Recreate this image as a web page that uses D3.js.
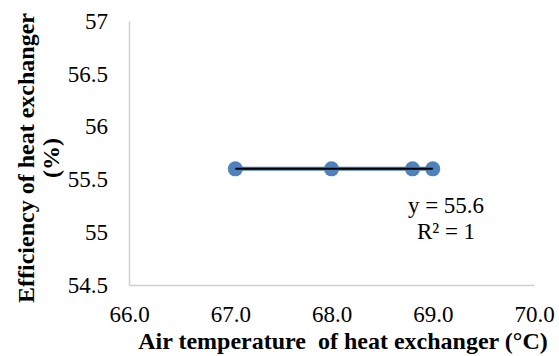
<!DOCTYPE html>
<html>
<head>
<meta charset="utf-8">
<script src="https://cdn.jsdelivr.net/npm/d3@7"></script>
<style>
  body { margin: 0; background: #fff; }
  svg text { font-family: "Liberation Serif", "Times New Roman", serif !important; fill: #000; white-space: pre; }
</style>
</head>
<body>
<svg class="chart"></svg>
<script>
	var airTemp = [67.05, 68.0, 68.8, 69.0];
	var efficiency = [55.6, 55.6, 55.6, 55.6];
	var xTicks = [66, 67, 68, 69, 70];
	var yTicks = [54.5, 55, 55.5, 56, 56.5, 57];
	var trendText = ["y = 55.6", "R² = 1"];

	const colors = {
		point: "#4f81bd",
		trend: "#000000",
		axis: "#d0d0d0"
	};
	const margin = {top: 21, bottom: 71, left: 129, right: 25};
	var width = 559 - margin.left - margin.right;
	var height = 356 - margin.top - margin.bottom;

	var svg = d3.select('.chart')
		.attr('width', 559)
		.attr('height', 356);

	var chart = svg.append('g')
		.attr('transform', 'translate(' + margin.left + ',' + margin.top + ')');

	var x = d3.scaleLinear().domain([66, 70]).range([0, width]);
	var y = d3.scaleLinear().domain([54.5, 57]).range([height, 0]);

	// axes, no tick marks, just labels
	var xAxis = chart.append('g')
		.attr('transform', 'translate(0,' + height + ')')
		.call(d3.axisBottom(x).tickValues(xTicks).tickSize(0).tickPadding(21).tickFormat(d3.format('.1f')));
	xAxis.select('.domain').attr('stroke', colors.axis).attr('stroke-width', 1.5);
	xAxis.selectAll('text').attr('font-size', 23);

	var yAxis = chart.append('g')
		.call(d3.axisLeft(y).tickValues(yTicks).tickSize(0).tickPadding(21).tickFormat(d3.format('')));
	yAxis.select('.domain').attr('stroke', colors.axis).attr('stroke-width', 1.5);
	yAxis.selectAll('text').attr('font-size', 23);

	var pts = airTemp.map((d, i) => ({x: d, y: efficiency[i]}));

	// series line under the trendline
	chart.append('path')
		.datum(pts)
		.attr('fill', 'none')
		.attr('stroke', colors.point)
		.attr('stroke-width', 4)
		.attr('d', d3.line().x((d) => x(d.x)).y((d) => y(d.y)));

	chart.selectAll('circle')
		.data(pts)
		.enter()
		.append('circle')
		.attr('cx', (d) => x(d.x))
		.attr('cy', (d) => y(d.y))
		.attr('r', 7.5)
		.attr('fill', colors.point);

	// linear trendline
	var xExt = d3.extent(airTemp);
	var yMean = d3.mean(efficiency);
	chart.append('line')
		.attr('x1', x(xExt[0]))
		.attr('x2', x(xExt[1]))
		.attr('y1', y(yMean))
		.attr('y2', y(yMean))
		.attr('stroke', colors.trend)
		.attr('stroke-width', 2);

	svg.selectAll('.eq')
		.data(trendText)
		.enter()
		.append('text')
		.attr('class', 'eq')
		.attr('x', 446)
		.attr('y', (d, i) => 213 + i * 26)
		.attr('text-anchor', 'middle')
		.attr('font-size', 23)
		.text((d) => d);

	// axis titles
	svg.append('text')
		.attr('x', 343)
		.attr('y', 349)
		.attr('text-anchor', 'middle')
		.attr('font-size', 24)
		.attr('font-weight', 'bold')
		.text('Air temperature  of heat exchanger (°C)');

	var yt = svg.append('text')
		.attr('transform', 'translate(0,158) rotate(-90)')
		.attr('text-anchor', 'middle')
		.attr('font-size', 24)
		.attr('font-weight', 'bold');
	yt.append('tspan').attr('x', 0).attr('y', 34).text('Efficiency of heat exchanger');
	yt.append('tspan').attr('x', 0).attr('y', 59).text('(%)');
</script>
</body>
</html>
